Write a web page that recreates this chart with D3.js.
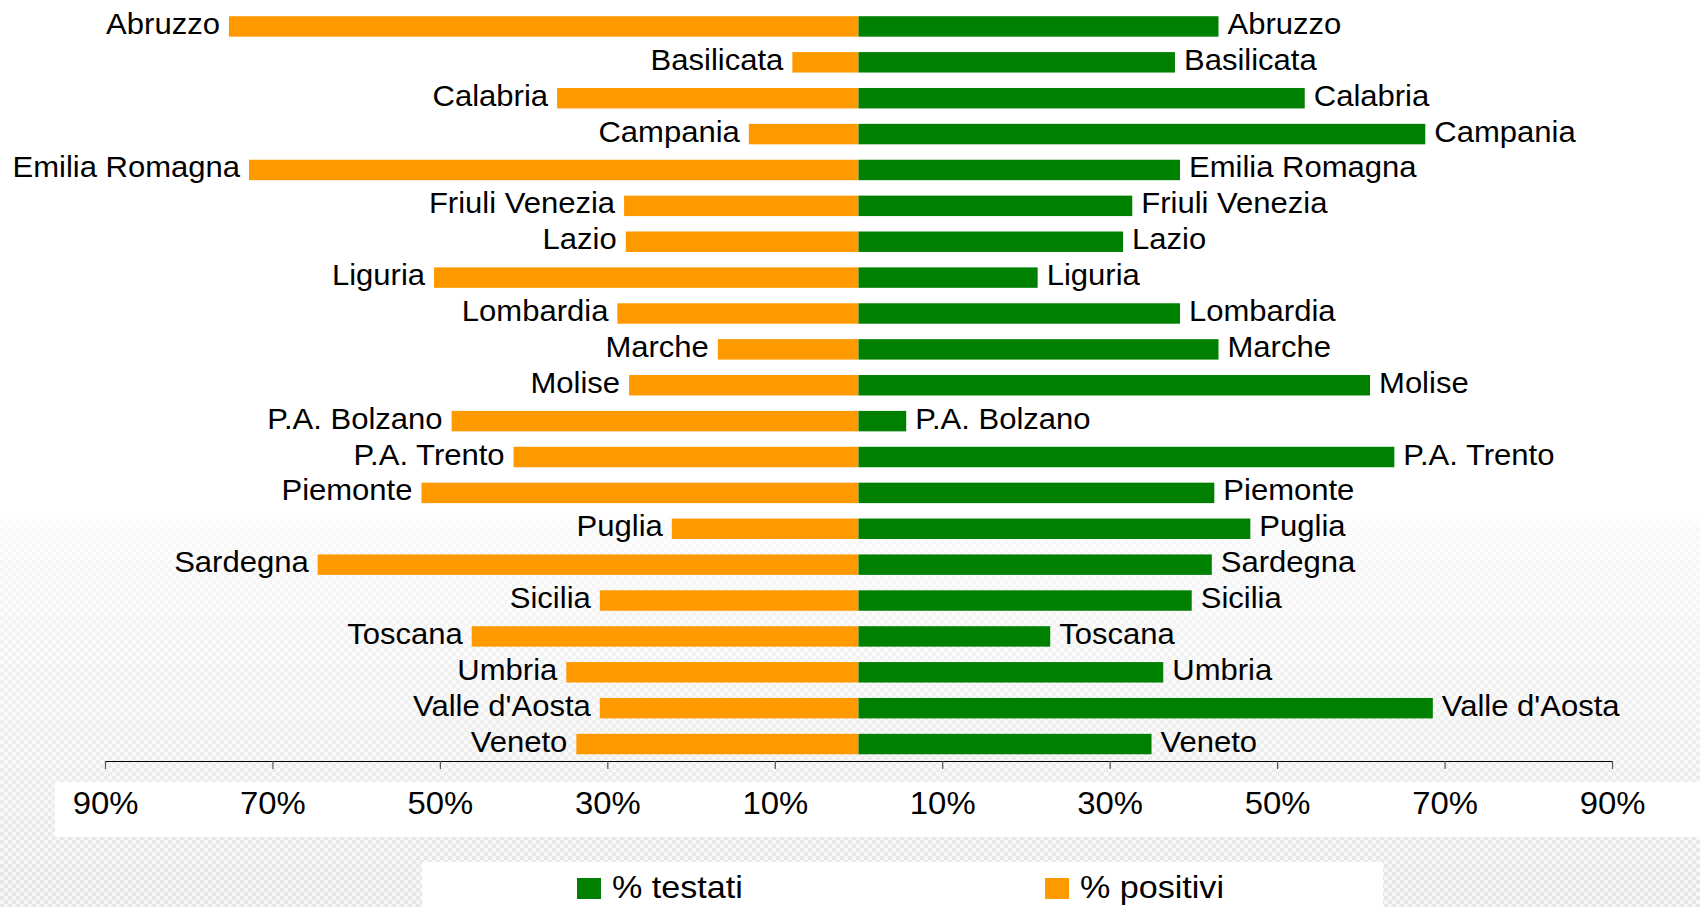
<!DOCTYPE html>
<html>
<head>
<meta charset="utf-8">
<script src="https://cdn.jsdelivr.net/npm/d3@7"></script>
<style>
  html, body { margin: 0; padding: 0; background: #fff; }
  svg { display: block; font-family: "Liberation Sans", Arial, sans-serif; }
</style>
</head>
<body>
<svg id="chart" width="1700" height="907"></svg>
<script>
// Regions (top to bottom)
const regions = ["Abruzzo", "Basilicata", "Calabria", "Campania", "Emilia Romagna",
  "Friuli Venezia", "Lazio", "Liguria", "Lombardia", "Marche", "Molise",
  "P.A. Bolzano", "P.A. Trento", "Piemonte", "Puglia", "Sardegna", "Sicilia",
  "Toscana", "Umbria", "Valle d'Aosta", "Veneto"];

// % positivi (drawn to the left of zero)
const positivi = [75.2, 7.9, 36.0, 13.1, 72.8, 28.0, 27.8, 50.7, 28.8, 16.8, 27.4,
  48.6, 41.2, 52.2, 22.3, 64.6, 30.9, 46.2, 34.9, 30.9, 33.7];

// % testati (drawn to the right of zero)
const testati = [43.0, 37.8, 53.3, 67.7, 38.4, 32.7, 31.6, 21.4, 38.4, 43.0, 61.1,
  5.7, 64.0, 42.5, 46.8, 42.2, 39.8, 22.9, 36.4, 68.6, 35.0];

const tickValues = [-90, -70, -50, -30, -10, 10, 30, 50, 70, 90];
const seriesNames = ["% testati", "% positivi"];
const colors = { testati: "#008000", positivi: "#FF9900" };

const svg = d3.select("#chart");
const W = 1700, H = 907;

// ---- background: white top, soft checkered grey lower part ----
const defs = svg.append("defs");
const pat = defs.append("pattern").attr("id", "checker")
  .attr("patternUnits", "userSpaceOnUse").attr("width", 8).attr("height", 8);
pat.append("rect").attr("width", 8).attr("height", 8).attr("fill", "#f4f4f4");
pat.append("rect").attr("width", 4).attr("height", 4).attr("fill", "#dcdcdc");
pat.append("rect").attr("x", 4).attr("y", 4).attr("width", 4).attr("height", 4).attr("fill", "#dcdcdc");

const fade = defs.append("linearGradient").attr("id", "fade")
  .attr("x1", 0).attr("y1", 0).attr("x2", 0).attr("y2", 1);
fade.append("stop").attr("offset", 0).attr("stop-color", "#fff").attr("stop-opacity", 1);
fade.append("stop").attr("offset", 0.04).attr("stop-color", "#fff").attr("stop-opacity", 0.82);
fade.append("stop").attr("offset", 0.5).attr("stop-color", "#fff").attr("stop-opacity", 0.55);
fade.append("stop").attr("offset", 1).attr("stop-color", "#fff").attr("stop-opacity", 0.25);

svg.append("rect").attr("width", W).attr("height", H).attr("fill", "#fff");
svg.append("rect").attr("x", 0).attr("y", 511).attr("width", W).attr("height", H - 511)
  .attr("fill", "url(#checker)");
svg.append("rect").attr("x", 0).attr("y", 511).attr("width", W).attr("height", H - 511)
  .attr("fill", "url(#fade)");

// white panels behind the tick labels and the legend
svg.append("rect").attr("x", 55).attr("y", 782).attr("width", W - 55).attr("height", 55).attr("fill", "#fff");
svg.append("rect").attr("x", 422).attr("y", 862).attr("width", 961).attr("height", H - 862).attr("fill", "#fff");

// ---- scales ----
const x = d3.scaleLinear().domain([-90, 90]).range([105, 1612]);
const y = d3.scaleBand().domain(regions).range([8.5, 762]).paddingInner(0.43).paddingOuter(0.215);

const rows = regions.map((r, i) => ({ region: r, pos: positivi[i], test: testati[i] }));

// ---- bars ----
svg.append("g").selectAll("rect").data(rows).join("rect")
  .attr("x", d => x(-d.pos)).attr("y", d => y(d.region))
  .attr("width", d => x(0) - x(-d.pos)).attr("height", y.bandwidth())
  .attr("fill", colors.positivi);

svg.append("g").selectAll("rect").data(rows).join("rect")
  .attr("x", x(0)).attr("y", d => y(d.region))
  .attr("width", d => x(d.test) - x(0)).attr("height", y.bandwidth())
  .attr("fill", colors.testati);

// ---- category labels at the outer end of each bar ----
const labelFont = 29, stretch = 1.07, gap = 9;
const lab = svg.append("g").attr("font-size", labelFont).attr("fill", "#000");
lab.selectAll("g.left").data(rows).join("g").attr("class", "left")
  .attr("transform", d => `translate(${x(-d.pos) - gap},${y(d.region) + y.bandwidth() / 2 + 7.5}) scale(${stretch},1)`)
  .append("text").attr("text-anchor", "end").text(d => d.region);
lab.selectAll("g.right").data(rows).join("g").attr("class", "right")
  .attr("transform", d => `translate(${x(d.test) + gap},${y(d.region) + y.bandwidth() / 2 + 7.5}) scale(${stretch},1)`)
  .append("text").attr("text-anchor", "start").text(d => d.region);

// ---- x axis ----
const axis = d3.axisBottom(x).tickValues(tickValues)
  .tickFormat(v => Math.abs(v) + "%").tickSize(8).tickSizeOuter(0).tickPadding(23);
const ax = svg.append("g").attr("transform", "translate(0,761)").call(axis);
ax.select(".domain").attr("stroke", "#000").attr("stroke-width", 1.2);
ax.selectAll(".tick line").attr("stroke", "#555").attr("stroke-width", 1.2);
ax.selectAll(".tick text").attr("font-size", 31).attr("fill", "#000")
  .attr("font-family", "'Liberation Sans', Arial, sans-serif")
  .attr("transform", "scale(1.06,1)");

// ---- legend ----
const legend = svg.append("g");
const legendItems = [
  { name: seriesNames[0], color: colors.testati, x: 577 },
  { name: seriesNames[1], color: colors.positivi, x: 1045 }
];
const li = legend.selectAll("g").data(legendItems).join("g")
  .attr("transform", d => `translate(${d.x},878)`);
li.append("rect").attr("width", 24).attr("height", 21).attr("fill", d => d.color);
li.append("g").attr("transform", "translate(35,19.5) scale(1.1,1)")
  .append("text").attr("font-size", 31).attr("fill", "#000").text(d => d.name);
</script>
</body>
</html>
